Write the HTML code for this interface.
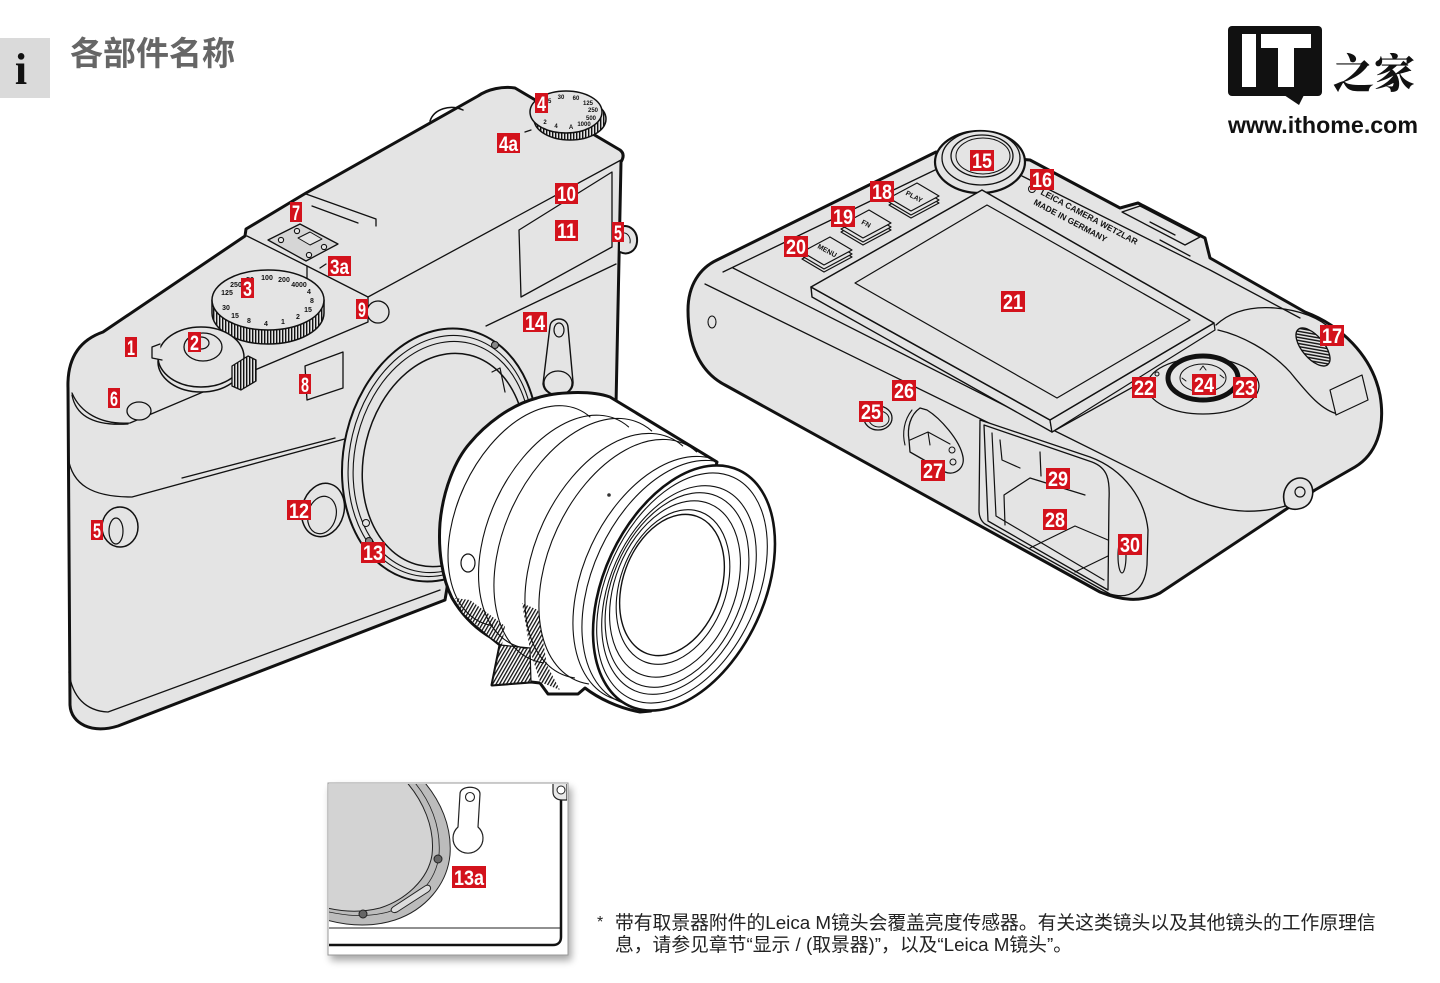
<!DOCTYPE html>
<html><head><meta charset="utf-8">
<style>
html,body{margin:0;padding:0;background:#fff;}
body{width:1440px;height:983px;position:relative;overflow:hidden;}
svg{position:absolute;left:0;top:0;}
.fn{position:absolute;left:615px;top:912px;font-family:"Liberation Sans","Noto Sans CJK SC",sans-serif;font-size:18.8px;line-height:22px;color:#222;white-space:nowrap;}
.ast{position:absolute;left:597px;top:912px;font-family:"Liberation Sans",sans-serif;font-size:16px;line-height:22px;color:#222;}
</style></head><body>
<svg width="1440" height="983" viewBox="0 0 1440 983" xmlns="http://www.w3.org/2000/svg">
<defs>
<pattern id="hv" width="3" height="3" patternUnits="userSpaceOnUse"><rect width="3" height="3" fill="#e4e4e4"/><rect width="1.4" height="3" fill="#111"/></pattern>
<pattern id="hd" width="3" height="3" patternUnits="userSpaceOnUse" patternTransform="rotate(30)"><rect width="3" height="3" fill="#fff"/><rect width="1.3" height="3" fill="#111"/></pattern>
<pattern id="hb" width="3" height="3" patternUnits="userSpaceOnUse" patternTransform="rotate(-40)"><rect width="3" height="3" fill="#e4e4e4"/><rect width="1.4" height="3" fill="#111"/></pattern>
<clipPath id="lensclip"><path d="M 470,443 C 485,425 510,405 537,398 C 555,392 590,390 610,397 L 717,462 L 651,711 L 640,712 C 618,708 598,698 585,688 L 578,694 L 548,694 L 540,683 L 531,682 L 492,685 L 500,645 L 490,637 C 475,628 462,615 452,598 C 442,578 438,550 440,523 C 443,490 455,460 470,443 Z"/></clipPath>
<clipPath id="insclip"><rect x="329" y="784" width="238" height="170"/></clipPath>
<filter id="ds" x="-10%" y="-10%" width="130%" height="130%"><feGaussianBlur in="SourceAlpha" stdDeviation="4"/><feOffset dx="3" dy="5"/><feComponentTransfer><feFuncA type="linear" slope="0.35"/></feComponentTransfer><feMerge><feMergeNode/><feMergeNode in="SourceGraphic"/></feMerge></filter>
</defs>

<!-- header -->
<rect x="0" y="38" width="50" height="60" fill="#dadada"/>
<text x="21" y="84" font-family="Liberation Serif" font-weight="bold" font-size="44" text-anchor="middle" fill="#111">i</text>
<text x="70" y="65" font-family="Noto Sans CJK SC, sans-serif" font-weight="bold" font-size="33" fill="#666">各部件名称</text>

<!-- logo -->
<rect x="1228" y="26" width="94" height="70" rx="4" fill="#111"/>
<polygon points="1284,95 1304,95 1299,105" fill="#111"/>
<rect x="1242" y="34" width="14" height="53" fill="#fff"/>
<rect x="1261" y="34" width="50" height="14" fill="#fff"/>
<rect x="1278" y="34" width="16" height="53" fill="#fff"/>
<text x="1333" y="88" font-family="Noto Serif CJK SC, serif" font-weight="900" font-size="41" fill="#111">之家</text>
<text x="1228" y="133" font-family="Liberation Sans" font-weight="bold" font-size="23" textLength="190" lengthAdjust="spacingAndGlyphs" fill="#111">www.ithome.com</text>

<!-- ============ FRONT CAMERA ============ -->
<g stroke="#111" stroke-linejoin="round" stroke-linecap="round">
<path d="M 70,705 L 68,388 C 67,358 80,340 103,332 L 245,236 L 246,229 L 306,193 L 478,96 C 488,89 503,86 515,88 L 620,150 C 624,153 624,157 621,162 L 616,405 L 470,450 L 445,600 L 118,726 C 92,734 71,724 70,705 Z" fill="#e4e4e4" stroke-width="3"/>
<path d="M 620,227 C 630,223 638,232 637,242 C 636,251 628,256 620,252" fill="#e4e4e4" stroke-width="2"/>
<path d="M 622,233 C 628,232 631,238 630,243" fill="none" stroke-width="1"/>
<path d="M 430,121 C 434,109 450,104 463,110" fill="none" stroke-width="1.5"/>
<g fill="none" stroke-width="1.3">
<path d="M 621,160 L 368,297 L 307,266 L 247,236"/>
<path d="M 368,297 L 368,322 L 130,423 C 100,425 80,412 72,393"/>
<path d="M 307,266 L 307,282"/>
<path d="M 72,395 C 76,417 96,426 128,424"/>
<path d="M 68,457 C 72,485 92,497 132,497 L 352,437"/>
<path d="M 182,478 L 335,438"/>
<path d="M 486,326 L 616,264"/>
<path d="M 69,672 C 72,697 86,711 108,712 L 440,590"/>
<path d="M 306,194 L 376,219 L 376,226"/>
<path d="M 312,206 L 358,223"/>
</g>
<polygon points="268,240 300,224 338,244 306,261" fill="#d6d6d6" stroke-width="1.3"/>
<polygon points="298,238 310,232 322,239 310,245" fill="#e4e4e4" stroke-width="1"/>
<g fill="#e4e4e4" stroke-width="1.1"><circle cx="281" cy="240" r="2.6"/><circle cx="297" cy="231" r="2.6"/><circle cx="324" cy="247" r="2.6"/><circle cx="309" cy="255" r="2.6"/></g>
<path d="M 320,268 L 326,264" stroke-width="1.3"/>
<!-- dial 4 -->
<ellipse cx="570" cy="119" rx="36" ry="21" fill="url(#hv)" stroke-width="1.5"/>
<ellipse cx="566" cy="112" rx="36" ry="21" fill="#e4e4e4" stroke-width="1.5"/>
<path d="M 525,132 L 531,130" stroke-width="1.3"/>
<g font-family="Liberation Sans" font-weight="bold" font-size="6" fill="#111" stroke="none" text-anchor="middle">
<text x="540" y="109">8</text><text x="548" y="103">15</text><text x="561" y="99">30</text><text x="576" y="100">60</text><text x="588" y="105">125</text><text x="593" y="112">250</text><text x="591" y="120">500</text><text x="584" y="126">1000</text><text x="571" y="129">A</text><text x="556" y="128">4</text><text x="545" y="124">2</text>
</g>
<!-- dial 3 -->
<path d="M 212,300 L 212,313 A 56 31 0 0 0 324,313 L 324,300 Z" fill="url(#hv)" stroke-width="1.5"/>
<ellipse cx="268" cy="300" rx="56" ry="30" fill="#e4e4e4" stroke-width="1.5"/>
<g font-family="Liberation Sans" font-weight="bold" font-size="7" fill="#111" stroke="none" text-anchor="middle">
<text x="227" y="295">125</text><text x="236" y="287">250</text><text x="250" y="282">50</text><text x="267" y="280">100</text><text x="284" y="282">200</text><text x="299" y="287">4000</text><text x="309" y="294">4</text><text x="312" y="303">8</text><text x="308" y="312">15</text><text x="298" y="319">2</text><text x="283" y="324">1</text><text x="266" y="326">4</text><text x="249" y="323">8</text><text x="235" y="318">15</text><text x="226" y="310">30</text>
</g>
<!-- shutter cap -->
<ellipse cx="201" cy="362" rx="43" ry="30" fill="#e4e4e4" stroke-width="1.5"/>
<ellipse cx="201" cy="357" rx="43" ry="30" fill="#e4e4e4" stroke-width="1.5"/>
<path d="M 160,344 L 152,347 L 152,358 L 162,360" fill="#e4e4e4" stroke-width="1.3"/>
<path d="M 232,366 L 248,356 L 256,360 L 256,381 L 241,390 L 232,386 Z" fill="url(#hv)" stroke-width="1.3"/>
<ellipse cx="203" cy="347" rx="19" ry="14" fill="#e4e4e4" stroke-width="1.3"/>
<ellipse cx="201" cy="343" rx="8" ry="6" fill="#e4e4e4" stroke-width="1.2"/>
<ellipse cx="139" cy="411" rx="12" ry="9" fill="#e4e4e4" stroke-width="1.3"/>
<polygon points="305,366 343,352 343,388 307,400" fill="#e4e4e4" stroke-width="1.3"/>
<circle cx="378" cy="312" r="11" fill="#e4e4e4" stroke-width="1.3"/>
<polygon points="519,230 612,172 612,247 521,297" fill="#e4e4e4" stroke-width="1.3"/>
<ellipse cx="120" cy="527" rx="18" ry="20" fill="#e4e4e4" stroke-width="1.5"/>
<ellipse cx="116" cy="531" rx="7" ry="13" fill="#e4e4e4" stroke-width="1.2"/>
<!-- mount -->
<ellipse cx="440" cy="455" rx="96" ry="128" transform="rotate(13.5 440 455)" fill="#e4e4e4" stroke-width="2"/>
<ellipse cx="441" cy="456" rx="91" ry="122" transform="rotate(13.5 441 456)" fill="none" stroke-width="1.1"/>
<ellipse cx="442" cy="457" rx="87" ry="117" transform="rotate(13.5 442 457)" fill="none" stroke-width="1.1"/>
<ellipse cx="444" cy="460" rx="80" ry="108" transform="rotate(13.5 444 460)" fill="#e4e4e4" stroke-width="1.5"/>
<circle cx="495" cy="345" r="3.5" fill="#888" stroke-width="1"/>
<circle cx="366" cy="523" r="3.5" fill="#e4e4e4" stroke-width="1"/>
<circle cx="369" cy="541" r="3.5" fill="#888" stroke-width="1"/>
<path d="M 492,372 L 500,368 L 505,392" fill="none" stroke-width="1.2"/>
<ellipse cx="323" cy="510" rx="21" ry="27" transform="rotate(15 323 510)" fill="#e4e4e4" stroke-width="1.5"/>
<ellipse cx="322" cy="515" rx="14" ry="19" transform="rotate(15 322 515)" fill="#e4e4e4" stroke-width="1.2"/>
<path d="M 550,326 C 551,317 567,316 568,327 L 573,382 C 574,398 545,400 543,384 Z" fill="#e4e4e4" stroke-width="1.4"/>
<ellipse cx="559" cy="330" rx="5" ry="7" fill="#e4e4e4" stroke-width="1.2"/>
<ellipse cx="558" cy="383" rx="14" ry="12" fill="#e4e4e4" stroke-width="1.2"/>

<!-- LENS -->
<path d="M 470,443 C 485,425 510,405 537,398 C 555,392 590,390 610,397 L 717,462 L 651,711 L 640,712 C 618,708 598,698 585,688 L 578,694 L 548,694 L 540,683 L 531,682 L 492,685 L 500,645 L 490,637 C 475,628 462,615 452,598 C 442,578 438,550 440,523 C 443,490 455,460 470,443 Z" fill="#fff" stroke-width="3"/>
<g clip-path="url(#lensclip)" fill="none" stroke-width="1.1">
<path d="M 455,598 L 470,600 L 505,626 L 502,645 L 490,637 L 463,613 Z" fill="url(#hd)" stroke="none"/>
<path d="M 522,603 L 538,610 L 547,665 L 560,690 L 540,682 L 530,650 Z" fill="url(#hd)" stroke="none"/>
<path d="M 500,645 L 530,648 L 531,682 L 492,685 Z" fill="url(#hd)" stroke-width="1.2"/>
<path d="M 739.7,472.9 A 80 130 25 1 0 631.5,704.9"/>
<path d="M 730.7,468.9 A 80 130 25 1 0 622.5,700.9"/>
<path d="M 696.7,451.9 A 80 130 25 1 0 588.5,683.9"/>
<path d="M 682.7,445.9 A 80 130 25 1 0 574.5,677.9"/>
<path d="M 651.7,430.9 A 80 130 25 1 0 543.5,662.9"/>
<path d="M 628.6,426.9 A 76 124 25 1 0 525.4,648.3"/>
<path d="M 590,416.9 A 72 117 25 1 0 492.6,625.7"/>
</g>
<ellipse cx="684" cy="588" rx="80" ry="130" transform="rotate(25 684 588)" fill="#fff" stroke-width="2.6"/>
<g fill="none" stroke-width="1.1">
<ellipse cx="682" cy="588" rx="75" ry="122" transform="rotate(25 682 588)"/>
<ellipse cx="679" cy="590" rx="69" ry="110" transform="rotate(24 679 590)"/>
<ellipse cx="677" cy="590" rx="65" ry="102" transform="rotate(23 677 590)"/>
<ellipse cx="675" cy="589" rx="60" ry="92" transform="rotate(22 675 589)"/>
<ellipse cx="673" cy="587" rx="53" ry="80" transform="rotate(20 673 587)"/>
<ellipse cx="672" cy="585" rx="49" ry="73" transform="rotate(20 672 585)" stroke-width="1.4"/>
</g>
<circle cx="609" cy="495" r="1.8" fill="#333" stroke="none"/>
<ellipse cx="468" cy="563" rx="7" ry="9" fill="#fff" stroke-width="1.2"/>
</g>

<!-- ============ BACK CAMERA ============ -->
<g stroke="#111" stroke-linejoin="round" stroke-linecap="round">
<path d="M 717,260 L 936,152 L 1030,160 L 1120,208 L 1138,203 L 1205,238 L 1210,258 L 1305,312 C 1340,325 1372,355 1380,395 C 1386,430 1375,455 1355,467 L 1315,490 L 1160,593 C 1140,603 1120,600 1100,592 L 725,385 C 700,372 688,345 688,310 C 688,285 700,268 717,260 Z" fill="#e4e4e4" stroke-width="3"/>
<g fill="none" stroke-width="1.3">
<path d="M 733,268 L 1053,430 L 1190,498 C 1230,515 1262,514 1292,504"/>
<path d="M 705,284 L 1085,470"/>
<path d="M 723,272 L 935,170"/>
<path d="M 1022,176 L 1210,270 L 1300,318"/>
<path d="M 1052,432 L 1160,372"/>
<path d="M 1216,325 C 1230,312 1250,306 1275,308 C 1300,310 1320,318 1332,330"/>
<path d="M 1218,330 C 1240,335 1270,350 1290,372 C 1305,390 1320,410 1338,414"/>
<path d="M 1122,212 L 1140,206 L 1200,237 L 1185,245 Z"/>
<path d="M 1150,222 L 1175,235 M 1160,240 L 1190,256"/>
</g>
<polygon points="1330,390 1362,375 1368,400 1336,415" fill="#e4e4e4" stroke-width="1.2"/>
<ellipse cx="1313" cy="347" rx="11" ry="23" transform="rotate(-40 1313 347)" fill="url(#hb)" stroke-width="1.3"/>
<ellipse cx="980" cy="162" rx="45" ry="31" fill="#e4e4e4" stroke-width="2.2"/>
<ellipse cx="981" cy="158" rx="39" ry="27" fill="#e4e4e4" stroke-width="1.3"/>
<ellipse cx="982" cy="156" rx="31" ry="21" fill="#e4e4e4" stroke-width="1.3"/>
<ellipse cx="983" cy="156" rx="27" ry="18" fill="#e4e4e4" stroke-width="1"/>
<circle cx="1032" cy="189" r="3.5" fill="#e4e4e4" stroke-width="1"/>
<g fill="#e4e4e4" stroke-width="1.2">
<polygon points="889,205 917,190 939,203 911,218" fill="none"/>
<polygon points="889,202 917,187 939,200 911,215"/>
<polygon points="889,198 917,183 939,196 911,211"/>
<polygon points="841,232 869,217 891,230 863,245" fill="none"/>
<polygon points="841,229 869,214 891,227 863,242"/>
<polygon points="841,225 869,210 891,223 863,238"/>
<polygon points="802,259 830,244 852,257 824,272" fill="none"/>
<polygon points="802,256 830,241 852,254 824,269"/>
<polygon points="802,252 830,237 852,250 824,265"/>
</g>
<g font-family="Liberation Sans" font-weight="bold" fill="#111" stroke="none" text-anchor="middle">
<text x="914" y="199" font-size="7" transform="rotate(28 914 197)">PLAY</text>
<text x="866" y="226" font-size="7" transform="rotate(28 866 224)">FN</text>
<text x="827" y="253" font-size="7" transform="rotate(28 827 251)">MENU</text>
<text x="1040" y="194" font-size="8.5" text-anchor="start" transform="rotate(28 1040 194)">LEICA CAMERA WETZLAR</text>
<text x="1033" y="204" font-size="8.5" text-anchor="start" transform="rotate(28 1033 204)">MADE IN GERMANY</text>
</g>
<polygon points="811,287 1050,420 1052,432 812,297" fill="#e4e4e4" stroke-width="1.4"/>
<polygon points="1050,420 1214,323 1215,330 1052,432" fill="#e4e4e4" stroke-width="1.2"/>
<polygon points="811,287 982,190 1214,323 1050,420" fill="#e4e4e4" stroke-width="1.5"/>
<polygon points="855,283 987,205 1190,320 1057,398" fill="#e4e4e4" stroke-width="1.2"/>
<ellipse cx="1203" cy="386" rx="56" ry="28" fill="#e4e4e4" stroke-width="1.2"/>
<ellipse cx="1203" cy="378" rx="35" ry="22" fill="#e4e4e4" stroke-width="5"/>
<ellipse cx="1203" cy="378" rx="23" ry="14" fill="#e4e4e4" stroke-width="1"/>
<path d="M 1203,366 L 1200,370 M 1203,366 L 1206,370 M 1224,378 L 1220,375 M 1182,378 L 1186,381" fill="none" stroke-width="1"/>
<circle cx="1157" cy="374" r="2" fill="#e4e4e4" stroke-width="1"/>
<ellipse cx="712" cy="322" rx="4" ry="6" fill="#e4e4e4" stroke-width="1.1"/>
<path d="M 1285,505 C 1280,490 1290,478 1300,478 C 1312,478 1316,492 1310,502 C 1305,510 1290,512 1285,505 Z" fill="#e4e4e4" stroke-width="1.6"/>
<circle cx="1300" cy="492" r="5" fill="#e4e4e4" stroke-width="1.2"/>
<ellipse cx="878" cy="418" rx="14" ry="12" fill="#e4e4e4" stroke-width="1.3"/>
<ellipse cx="879" cy="419" rx="10" ry="8" fill="#e4e4e4" stroke-width="1"/>
<path d="M 912,410 C 904,420 902,433 905,445" fill="none" stroke-width="1.1"/>
<path d="M 920,408 C 910,415 907,428 909,440 L 910,452 L 945,472 C 955,476 965,468 963,457 C 960,440 940,418 927,410 Z" fill="#e4e4e4" stroke-width="1.3"/>
<path d="M 910,440 L 928,432 L 950,444 M 928,432 L 930,445" fill="none" stroke-width="1.1"/>
<circle cx="952" cy="450" r="3" fill="#e4e4e4" stroke-width="1"/>
<circle cx="953" cy="462" r="3" fill="#e4e4e4" stroke-width="1"/>
<path d="M 980,420 L 1090,457 C 1125,470 1145,500 1148,530 L 1147,565 C 1145,590 1130,600 1110,594 L 985,524 C 981,521 979,516 979,510 Z" fill="#e4e4e4" stroke-width="1.3"/>
<path d="M 984,425 L 1092,462 C 1108,468 1110,480 1109,500 L 1108,590 L 988,521 Z" fill="#e4e4e4" stroke-width="1.3"/>
<g fill="none" stroke-width="1.2">
<path d="M 992,433 L 996,516 L 1104,580"/>
<path d="M 1000,440 L 1002,460 L 1020,468 M 1040,452 L 1041,476"/>
<path d="M 1005,525 L 1004,495 L 1030,478 L 1085,495"/>
<path d="M 1030,548 L 1075,526 L 1108,540"/>
<path d="M 1075,572 L 1108,556"/>
</g>
<ellipse cx="1122" cy="556" rx="4" ry="17" fill="#e4e4e4" stroke-width="1.2"/>
</g>

<!-- ============ INSET ============ -->
<rect x="328" y="783" width="240" height="172" fill="#fff" stroke="#999" stroke-width="1" filter="url(#ds)"/>
<g clip-path="url(#insclip)" stroke="#222" stroke-linejoin="round">
<path d="M 320,775 L 418,775 C 442,800 452,828 450,855 C 447,885 425,910 395,920 C 370,928 345,926 320,918 Z" fill="#bcbcbc" stroke-width="1"/>
<path d="M 320,775 L 408,775 C 432,800 441,828 439,855 C 436,882 415,903 388,912 C 365,918 345,916 320,910 Z" fill="none" stroke-width="0.8"/>
<path d="M 320,775 L 400,775 C 425,800 435,830 432,855 C 428,880 405,900 380,908 C 360,913 340,912 320,906 Z" fill="#d3d3d3" stroke-width="1"/>
<path d="M 393,907 L 425,886 C 430,883 433,889 428,892 L 397,912 C 392,914 389,910 393,907 Z" fill="#ddd" stroke-width="1"/>
<circle cx="438" cy="859" r="4" fill="#666" stroke-width="1"/>
<circle cx="363" cy="914" r="4" fill="#666" stroke-width="1"/>
<path d="M 329,928 L 560,928" stroke-width="1" fill="none"/>
<path d="M 329,945 L 553,945 C 558,945 561,942 561,937 L 561,800" stroke="#111" stroke-width="2.5" fill="none"/>
<path d="M 553,783 L 553,792 C 553,798 558,800 562,800 L 567,800 L 567,783" fill="#e8e8e8" stroke-width="1.2"/>
<circle cx="561" cy="790" r="4" fill="#fff" stroke-width="1"/>
<path d="M 460,794 C 460,785 480,785 480,794 L 478,827 A 15 15 0 1 1 458,827 Z" fill="#fff" stroke-width="1.2"/>
<circle cx="470" cy="797" r="4.5" fill="#fff" stroke-width="1.1"/>
</g>

<!-- ============ LABELS ============ -->
<g fill="#d3121c">
<rect x="125" y="337" width="12" height="20"/><rect x="188" y="332" width="13" height="20"/><rect x="241" y="278" width="13" height="20"/><rect x="328" y="256" width="23" height="20"/>
<rect x="535" y="93" width="13" height="20"/><rect x="497" y="133" width="23" height="20"/><rect x="612" y="222" width="12" height="20"/><rect x="91" y="520" width="12" height="20"/>
<rect x="108" y="388" width="12" height="20"/><rect x="290" y="202" width="12" height="20"/><rect x="299" y="374" width="12" height="20"/><rect x="356" y="299" width="12" height="20"/>
<rect x="555" y="183" width="23" height="21"/><rect x="555" y="220" width="23" height="21"/><rect x="287" y="500" width="24" height="20"/><rect x="361" y="542" width="24" height="21"/>
<rect x="523" y="312" width="24" height="20"/><rect x="970" y="150" width="24" height="21"/><rect x="1030" y="169" width="24" height="21"/><rect x="1320" y="325" width="24" height="21"/>
<rect x="870" y="181" width="24" height="21"/><rect x="831" y="206" width="24" height="21"/><rect x="784" y="236" width="24" height="21"/><rect x="1001" y="291" width="24" height="21"/>
<rect x="1132" y="377" width="24" height="21"/><rect x="1233" y="377" width="24" height="21"/><rect x="1192" y="374" width="24" height="21"/><rect x="859" y="401" width="24" height="21"/>
<rect x="892" y="380" width="24" height="21"/><rect x="921" y="460" width="24" height="21"/><rect x="1043" y="509" width="24" height="21"/><rect x="1046" y="468" width="24" height="21"/>
<rect x="1118" y="534" width="24" height="21"/><rect x="452" y="866" width="34" height="22"/>
</g>
<g fill="#fff" font-family="Liberation Sans" font-weight="bold" font-size="21" text-anchor="middle">
<text x="131" y="355" textLength="8" lengthAdjust="spacingAndGlyphs">1</text>
<text x="194.5" y="350" textLength="9" lengthAdjust="spacingAndGlyphs">2</text>
<text x="247.5" y="296" textLength="9" lengthAdjust="spacingAndGlyphs">3</text>
<text x="339.5" y="274" textLength="19" lengthAdjust="spacingAndGlyphs">3a</text>
<text x="541.5" y="111" textLength="9" lengthAdjust="spacingAndGlyphs">4</text>
<text x="508.5" y="151" textLength="19" lengthAdjust="spacingAndGlyphs">4a</text>
<text x="618" y="240" textLength="8" lengthAdjust="spacingAndGlyphs">5</text>
<text x="97" y="538" textLength="8" lengthAdjust="spacingAndGlyphs">5</text>
<text x="114" y="406" textLength="8" lengthAdjust="spacingAndGlyphs">6</text>
<text x="296" y="220" textLength="8" lengthAdjust="spacingAndGlyphs">7</text>
<text x="305" y="392" textLength="8" lengthAdjust="spacingAndGlyphs">8</text>
<text x="362" y="317" textLength="8" lengthAdjust="spacingAndGlyphs">9</text>
<text x="566.5" y="201" textLength="19" lengthAdjust="spacingAndGlyphs">10</text>
<text x="566.5" y="238" textLength="19" lengthAdjust="spacingAndGlyphs">11</text>
<text x="299" y="518" textLength="20" lengthAdjust="spacingAndGlyphs">12</text>
<text x="373" y="560" textLength="20" lengthAdjust="spacingAndGlyphs">13</text>
<text x="535" y="330" textLength="20" lengthAdjust="spacingAndGlyphs">14</text>
<text x="982" y="168" textLength="20" lengthAdjust="spacingAndGlyphs">15</text>
<text x="1042" y="187" textLength="20" lengthAdjust="spacingAndGlyphs">16</text>
<text x="1332" y="343" textLength="20" lengthAdjust="spacingAndGlyphs">17</text>
<text x="882" y="199" textLength="20" lengthAdjust="spacingAndGlyphs">18</text>
<text x="843" y="224" textLength="20" lengthAdjust="spacingAndGlyphs">19</text>
<text x="796" y="254" textLength="20" lengthAdjust="spacingAndGlyphs">20</text>
<text x="1013" y="309" textLength="20" lengthAdjust="spacingAndGlyphs">21</text>
<text x="1144" y="395" textLength="20" lengthAdjust="spacingAndGlyphs">22</text>
<text x="1245" y="395" textLength="20" lengthAdjust="spacingAndGlyphs">23</text>
<text x="1204" y="392" textLength="20" lengthAdjust="spacingAndGlyphs">24</text>
<text x="871" y="419" textLength="20" lengthAdjust="spacingAndGlyphs">25</text>
<text x="904" y="398" textLength="20" lengthAdjust="spacingAndGlyphs">26</text>
<text x="933" y="478" textLength="20" lengthAdjust="spacingAndGlyphs">27</text>
<text x="1055" y="527" textLength="20" lengthAdjust="spacingAndGlyphs">28</text>
<text x="1058" y="486" textLength="20" lengthAdjust="spacingAndGlyphs">29</text>
<text x="1130" y="552" textLength="20" lengthAdjust="spacingAndGlyphs">30</text>
<text x="469" y="885" textLength="30" lengthAdjust="spacingAndGlyphs">13a</text>
</g>
</svg>
<div class="ast">*</div>
<div class="fn">带有取景器附件的Leica M镜头会覆盖亮度传感器。有关这类镜头以及其他镜头的工作原理信<br>息，请参见章节“显示 / (取景器)”，以及“Leica M镜头”。</div>
</body></html>
